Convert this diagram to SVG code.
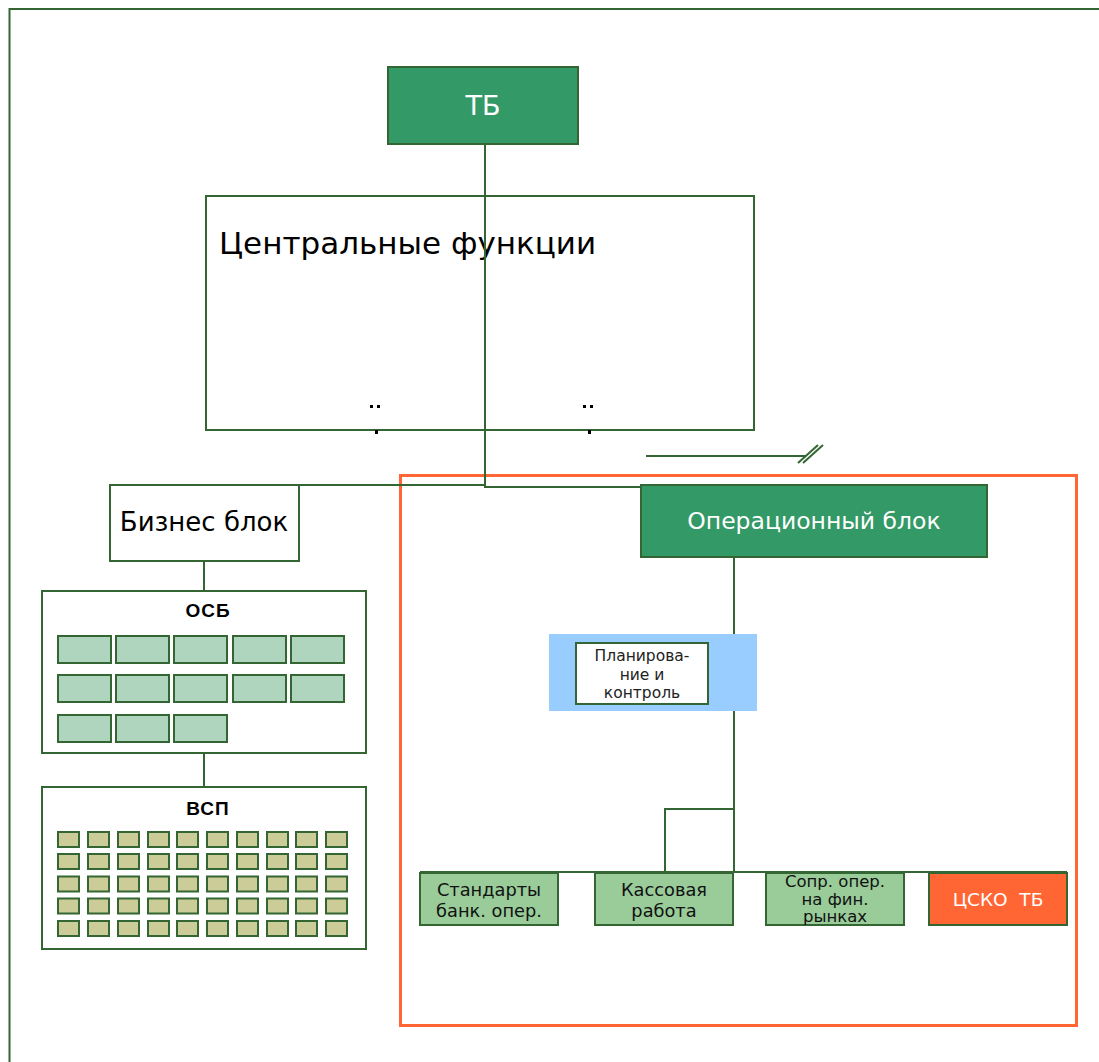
<svg xmlns="http://www.w3.org/2000/svg" width="1099" height="1062" viewBox="0 0 1099 1062">
<style>
.ln{stroke:#336633;stroke-width:2;fill:none}
.box{stroke:#336633;stroke-width:2}
.t{font-family:"DejaVu Sans",Verdana,sans-serif;text-anchor:middle}
.h{font-family:"Liberation Sans",Arial,sans-serif;font-weight:bold;text-anchor:middle;letter-spacing:1px}
.osb{fill:#AFD5BF;stroke:#336633;stroke-width:2}
.vsp{fill:#CCCC99;stroke:#336633;stroke-width:2}
.fn{fill:#99CC99;stroke:#336633;stroke-width:2}
</style>
<defs>
<rect id="o" class="osb" width="53" height="27"/>
<rect id="v" class="vsp" width="21" height="15"/>
</defs>
<rect width="1099" height="1062" fill="#fff"/>
<path d="M9.5 1062 V9 H1099" stroke="#336633" stroke-width="2" fill="none"/>

<g id="central">
<rect x="206" y="196" width="548" height="234" fill="#fff" class="box"/>
<text x="219" y="254" font-family="DejaVu Sans,Verdana,sans-serif" font-size="31">Центральные функции</text>
<rect x="370" y="405" width="3" height="3" fill="#000"/><rect x="377" y="405" width="3" height="3" fill="#000"/>
<rect x="375" y="430" width="3" height="4" fill="#000"/>
<rect x="583" y="405" width="3" height="3" fill="#000"/><rect x="590" y="405" width="3" height="3" fill="#000"/>
<rect x="588" y="430" width="3" height="4" fill="#000"/>
</g>

<g id="ops-frame">
<rect x="400.5" y="475.5" width="676" height="550" fill="none" stroke="#FF6633" stroke-width="3"/>
</g>

<g id="connectors">
<path class="ln" d="M485 144 V487 H641"/>
<path class="ln" d="M206 485 H485" stroke-width="1.5"/>
<path class="ln" d="M646 456 H806"/>
<path class="ln" d="M798 463 L818 445 M803 463 L823 445" stroke-width="1.5"/>
<path class="ln" d="M734 557 V872"/>
<path class="ln" d="M708 674 H734"/>
<path class="ln" d="M665 872 V809 H734"/>
<path class="ln" d="M420 872 H1067"/>
<path class="ln" d="M204 561 V591"/>
<path class="ln" d="M204 753 V787"/>
</g>

<g id="tb">
<rect x="388" y="67" width="190" height="77" fill="#339966" class="box"/>
<text class="t" x="483" y="115" font-size="27" fill="#fff">ТБ</text>
</g>

<g id="business">
<rect x="110" y="485" width="189" height="76" fill="#fff" class="box"/>
<text class="t" x="204" y="531" font-size="26">Бизнес блок</text>
</g>

<g id="ops">
<rect x="641" y="485" width="346" height="72" fill="#339966" class="box"/>
<text class="t" x="814" y="529" font-size="23.5" fill="#fff">Операционный блок</text>
</g>

<g id="plan">
<rect x="549" y="634" width="208" height="77" fill="#99CCFF"/>
<rect x="576" y="643" width="132" height="61" fill="#fff" class="box"/>
<text class="t" font-size="15.5" fill="#222"><tspan x="642" y="661">Планирова-</tspan><tspan x="642" y="680">ние и</tspan><tspan x="642" y="698">контроль</tspan></text>
</g>

<g id="std">
<rect x="420" y="873" width="138" height="52" class="fn"/>
<text class="t" font-size="17.8" fill="#111"><tspan x="489" y="896">Стандарты</tspan><tspan x="489" y="917">банк. опер.</tspan></text>
</g>
<g id="cash">
<rect x="595" y="873" width="138" height="52" class="fn"/>
<text class="t" font-size="17.8" fill="#111"><tspan x="664" y="896">Кассовая</tspan><tspan x="664" y="917">работа</tspan></text>
</g>
<g id="fin">
<rect x="766" y="873" width="138" height="52" class="fn"/>
<text class="t" font-size="16.5" fill="#111"><tspan x="835" y="887">Сопр. опер.</tspan><tspan x="835" y="905">на фин.</tspan><tspan x="835" y="922">рынках</tspan></text>
</g>
<g id="csko">
<rect x="929" y="873" width="138" height="52" fill="#FF6633" class="box"/>
<text class="t" x="998" y="906" font-size="18.5" fill="#fff" xml:space="preserve">ЦСКО  ТБ</text>
</g>

<g id="osb">
<rect x="42" y="591" width="324" height="162" fill="#fff" class="box"/>
<text class="h" x="208" y="617" font-size="19">ОСБ</text>
<use href="#o" x="58" y="636"/><use href="#o" x="116" y="636"/><use href="#o" x="174" y="636"/><use href="#o" x="233" y="636"/><use href="#o" x="291" y="636"/>
<use href="#o" x="58" y="675"/><use href="#o" x="116" y="675"/><use href="#o" x="174" y="675"/><use href="#o" x="233" y="675"/><use href="#o" x="291" y="675"/>
<use href="#o" x="58" y="715"/><use href="#o" x="116" y="715"/><use href="#o" x="174" y="715"/>
</g>

<g id="vsp">
<rect x="42" y="787" width="324" height="162" fill="#fff" class="box"/>
<text class="h" x="208" y="815" font-size="19">ВСП</text>
<g id="vrow">
<use href="#v" x="58" y="832"/><use href="#v" x="88" y="832"/><use href="#v" x="118" y="832"/><use href="#v" x="148" y="832"/><use href="#v" x="177" y="832"/><use href="#v" x="207" y="832"/><use href="#v" x="237" y="832"/><use href="#v" x="267" y="832"/><use href="#v" x="296" y="832"/><use href="#v" x="326" y="832"/>
</g>
<use href="#vrow" y="22"/><use href="#vrow" y="44.5"/><use href="#vrow" y="66.5"/><use href="#vrow" y="89"/>
</g>
</svg>
